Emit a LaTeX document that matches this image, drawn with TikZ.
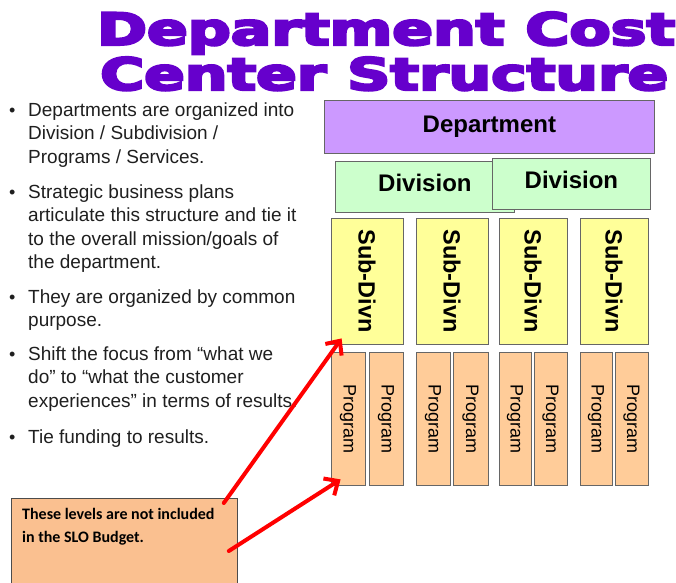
\documentclass[tikz,border=0pt]{standalone}
\usepackage{fontspec}
\setmainfont{Liberation Sans}
\newfontfamily\titlefont{DejaVu Sans}[FakeBold=5]
\newfontfamily\notefont{Carlito}
\usepackage{graphicx}
\usetikzlibrary{arrows.meta}

\definecolor{titlepurple}{HTML}{6600CC}
\definecolor{deptfill}{HTML}{CC99FF}
\definecolor{divfill}{HTML}{CCFFCC}
\definecolor{subfill}{HTML}{FFFF99}
\definecolor{progfill}{HTML}{FFCC99}
\definecolor{notefill}{HTML}{FAC090}

\begin{document}
\begin{tikzpicture}[x=1pt, y=-1pt]
    \tikzstyle{box}       = [draw=black!60, line width=0.8pt, inner sep=0pt]
    \tikzstyle{deptbox}   = [box, fill=deptfill, anchor=north west, minimum width=330pt, minimum height=53pt, font=\fontsize{24}{28}\selectfont\bfseries]
    \tikzstyle{divbox}    = [box, fill=divfill, anchor=north west, minimum height=51pt, text depth=8pt, font=\fontsize{24}{28}\selectfont\bfseries]
    \tikzstyle{subbox}    = [box, fill=subfill, rotate=-90, minimum width=126pt, font=\fontsize{23.5}{27}\selectfont\bfseries]
    \tikzstyle{progbox}   = [box, fill=progfill, rotate=-90, minimum width=133pt, font=\fontsize{18}{20}\selectfont]
    \tikzstyle{notebox}   = [box, draw=black!70, fill=notefill, anchor=north west, minimum width=226pt, minimum height=92pt]
    \tikzstyle{bullettext}= [anchor=base west, align=left, inner sep=0pt, text=black!88, font=\fontsize{19}{23.5}\selectfont]
    \tikzstyle{dot}       = [anchor=base west, inner sep=0pt, text=black!88, font=\fontsize{18}{23.5}\selectfont]
    \tikzstyle{titletext} = [anchor=base west, inner sep=0pt, text=titlepurple, font=\fontsize{45}{50}\titlefont\bfseries]
    \tikzstyle{arrow}     = [red, line width=4pt, line cap=round, line join=round, -{Straight Barb[length=11pt, width=20pt]}]

    \useasboundingbox (0,0) rectangle (676,582);

    \node [titletext] (title1) at (97,45) {\resizebox{578pt}{33pt}{Department Cost}};
    \node [titletext] (title2) at (100,90) {\resizebox{568pt}{33pt}{Center Structure}};

    % multi-line nodes sit on the baseline of their last line
    \node [dot] (dot1) at (9,116) {\textbullet};
    \node [bullettext] (item1) at (28,163) {Departments are organized into\\Division / Subdivision /\\Programs / Services.};
    \node [dot] (dot2) at (9,198) {\textbullet};
    \node [bullettext] (item2) at (28,268.5) {Strategic business plans\\articulate this structure and tie it\\to the overall mission/goals of\\the department.};
    \node [dot] (dot3) at (9,303) {\textbullet};
    \node [bullettext] (item3) at (28,326.5) {They are organized by common\\purpose.};
    \node [dot] (dot4) at (9,360) {\textbullet};
    \node [bullettext] (item4) at (28,407) {Shift the focus from ``what we\\do'' to ``what the customer\\experiences'' in terms of results.};
    \node [dot] (dot5) at (9,443) {\textbullet};
    \node [bullettext] (item5) at (28,443) {Tie funding to results.};

    \node [deptbox] (dept) at (324,100) {Department};
    \node [divbox, minimum width=179pt] (div1) at (335,161) {Division};
    \node [divbox, minimum width=158pt] (div2) at (492,158) {Division};

    \node [subbox, minimum height=72pt] (sub1) at (367,281) {Sub-Divn};
    \node [subbox, minimum height=72pt] (sub2) at (452,281) {Sub-Divn};
    \node [subbox, minimum height=68pt] (sub3) at (533,281) {Sub-Divn};
    \node [subbox, minimum height=68pt] (sub4) at (614,281) {Sub-Divn};

    \foreach \x/\w [count=\i] in {348/34, 386/34, 433/34, 470.5/35, 515/32, 550.5/33, 596/32, 631.5/33}
        \node [progbox, minimum height=\w pt] (prog\i) at (\x,418.5) {Program};

    \node [notebox] (note) at (11,498) {};
    \node [anchor=base west, align=left, inner sep=0pt, font=\fontsize{16}{23}\notefont\bfseries] (notetext) at (22,542) {These levels are not included\\in the SLO Budget.};

    % rotated boxes: local south east is the lower left corner
    \coordinate (from1) at ([shift={(-14,5)}]note.north east);
    \coordinate (from2) at ([shift={(-9,53)}]note.north east);
    \coordinate (tip1) at ([shift={(11,-6)}]sub1.south east);
    \coordinate (tip2) at ([shift={(10,-6)}]prog1.south east);

    \draw [arrow] (from1) -- (tip1);
    \draw [arrow] (from2) -- (tip2);
\end{tikzpicture}
\end{document}
